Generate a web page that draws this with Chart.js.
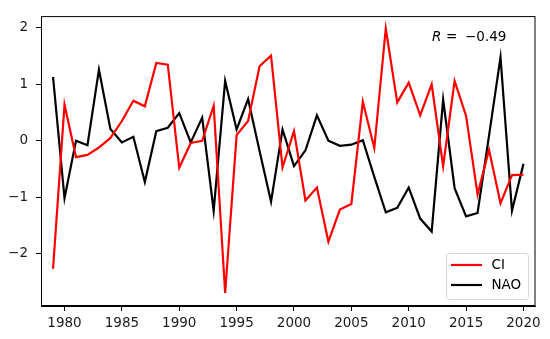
<!DOCTYPE html>
<html>
<head>
<meta charset="utf-8">
<script src="https://cdn.jsdelivr.net/npm/chart.js@4"></script>
<style>
  html, body { margin: 0; padding: 0; background: #fff; }
  #wrap { width: 550px; height: 339px; }
</style>
</head>
<body>
<div id="wrap"><canvas id="chart" width="550" height="339"></canvas></div>
<script>
  // years on the x axis
  const years = [];
  for (let y = 1979; y <= 2020; y++) years.push(y);

  // CI series
  const ciValues = [
    -2.27, 0.64, -0.29, -0.25, -0.12, 0.05, 0.35, 0.71, 0.61, 1.38,
    1.35, -0.48, -0.04, 0.0, 0.62, -2.70, 0.10, 0.35, 1.32, 1.51,
    -0.47, 0.17, -1.06, -0.83, -1.79, -1.22, -1.12, 0.69, -0.13, 1.99,
    0.68, 1.03, 0.45, 1.0, -0.45, 1.06, 0.44, -0.95, -0.16, -1.11,
    -0.61, -0.60
  ];

  // NAO series
  const naoValues = [
    1.13, -1.02, 0.0, -0.08, 1.26, 0.21, -0.03, 0.07, -0.73, 0.17,
    0.23, 0.49, -0.03, 0.41, -1.24, 1.06, 0.20, 0.74, -0.18, -1.08,
    0.20, -0.45, -0.17, 0.45, 0.0, -0.09, -0.07, 0.01, -0.64, -1.27,
    -1.19, -0.83, -1.38, -1.61, 0.73, -0.84, -1.34, -1.28, 0.09, 1.48,
    -1.24, -0.41
  ];

  const xTicks = [1980, 1985, 1990, 1995, 2000, 2005, 2010, 2015, 2020];
  const yTicks = [-2, -1, 0, 1, 2];
  const rValue = "\u22120.49";

  const FONT = "DejaVu Sans";

  // frame round the plot area, like matplotlib's spines
  const framePlugin = {
    id: "frame",
    afterDatasetsDraw(chart) {
      const { ctx, chartArea: a } = chart;
      ctx.save();
      ctx.strokeStyle = "#000";
      ctx.lineWidth = 1;
      ctx.strokeRect(a.left + 0.5, a.top + 0.5, a.right - a.left - 1, a.bottom - a.top - 1);
      ctx.restore();
    }
  };

  // correlation text and legend box inside the axes
  const notesPlugin = {
    id: "notes",
    afterDraw(chart) {
      const ctx = chart.ctx;
      ctx.save();

      // R = -0.49 (mathtext-like spacing)
      ctx.fillStyle = "#000";
      ctx.textBaseline = "middle";
      ctx.textAlign = "left";
      ctx.font = "italic 13.5px " + FONT;
      ctx.fillText("R", 432, 37);
      ctx.font = "13.5px " + FONT;
      ctx.fillText("=", 446, 37);
      ctx.fillText(rValue, 465, 37);

      // legend
      const bx = 446.5, by = 253.5, bw = 82, bh = 46, r = 3;
      ctx.beginPath();
      ctx.moveTo(bx + r, by);
      ctx.lineTo(bx + bw - r, by);
      ctx.quadraticCurveTo(bx + bw, by, bx + bw, by + r);
      ctx.lineTo(bx + bw, by + bh - r);
      ctx.quadraticCurveTo(bx + bw, by + bh, bx + bw - r, by + bh);
      ctx.lineTo(bx + r, by + bh);
      ctx.quadraticCurveTo(bx, by + bh, bx, by + bh - r);
      ctx.lineTo(bx, by + r);
      ctx.quadraticCurveTo(bx, by, bx + r, by);
      ctx.closePath();
      ctx.fillStyle = "rgba(255,255,255,0.8)";
      ctx.fill();
      ctx.strokeStyle = "#d6d6d6";
      ctx.lineWidth = 1;
      ctx.stroke();

      const rows = chart.data.datasets.map((ds, i) => ({
        label: ds.label, color: ds.borderColor, y: 265 + i * 20
      }));
      rows.forEach(row => {
        ctx.strokeStyle = row.color;
        ctx.lineWidth = 2.2;
        ctx.beginPath();
        ctx.moveTo(451, row.y);
        ctx.lineTo(482, row.y);
        ctx.stroke();
        ctx.fillStyle = "#000";
        ctx.font = "13.5px " + FONT;
        ctx.fillText(row.label, 491.5, row.y);
      });
      ctx.restore();
    }
  };

  const fmt = v => (v < 0 ? "\u2212" + Math.abs(v) : String(v));

  new Chart(document.getElementById("chart"), {
    type: "line",
    data: {
      labels: years,
      datasets: [
        {
          label: "CI",
          data: years.map((y, i) => ({ x: y, y: ciValues[i] })),
          borderColor: "#ff0000",
          borderWidth: 2.2,
          pointRadius: 0,
          tension: 0
        },
        {
          label: "NAO",
          data: years.map((y, i) => ({ x: y, y: naoValues[i] })),
          borderColor: "#000000",
          borderWidth: 2.2,
          pointRadius: 0,
          tension: 0
        }
      ]
    },
    options: {
      responsive: false,
      animation: false,
      layout: { padding: { top: 11.5, right: 14.5, left: 0, bottom: 0 } },
      plugins: {
        legend: { display: false },
        tooltip: { enabled: false }
      },
      scales: {
        x: {
          type: "linear",
          min: 1977.95,
          max: 2021.05,
          afterBuildTicks: s => { s.ticks = xTicks.map(v => ({ value: v })); },
          afterFit: s => { s.height = 33; },
          grid: {
            drawOnChartArea: false,
            drawTicks: true,
            tickLength: 5,
            color: "#000"
          },
          border: { display: true, color: "#000", width: 1 },
          ticks: {
            color: "#1a1a1a",
            font: { family: FONT, size: 13.5 },
            padding: 4,
            maxRotation: 0,
            callback: v => String(v)
          }
        },
        y: {
          min: -2.93,
          max: 2.21,
          afterBuildTicks: s => { s.ticks = yTicks.map(v => ({ value: v })); },
          afterFit: s => { s.width = 41; },
          grid: {
            drawOnChartArea: false,
            drawTicks: true,
            tickLength: 5,
            color: "#000"
          },
          border: { display: true, color: "#000", width: 1 },
          ticks: {
            color: "#1a1a1a",
            font: { family: FONT, size: 13.5 },
            padding: 8,
            callback: v => fmt(v)
          }
        }
      }
    },
    plugins: [framePlugin, notesPlugin]
  });
</script>
</body>
</html>
